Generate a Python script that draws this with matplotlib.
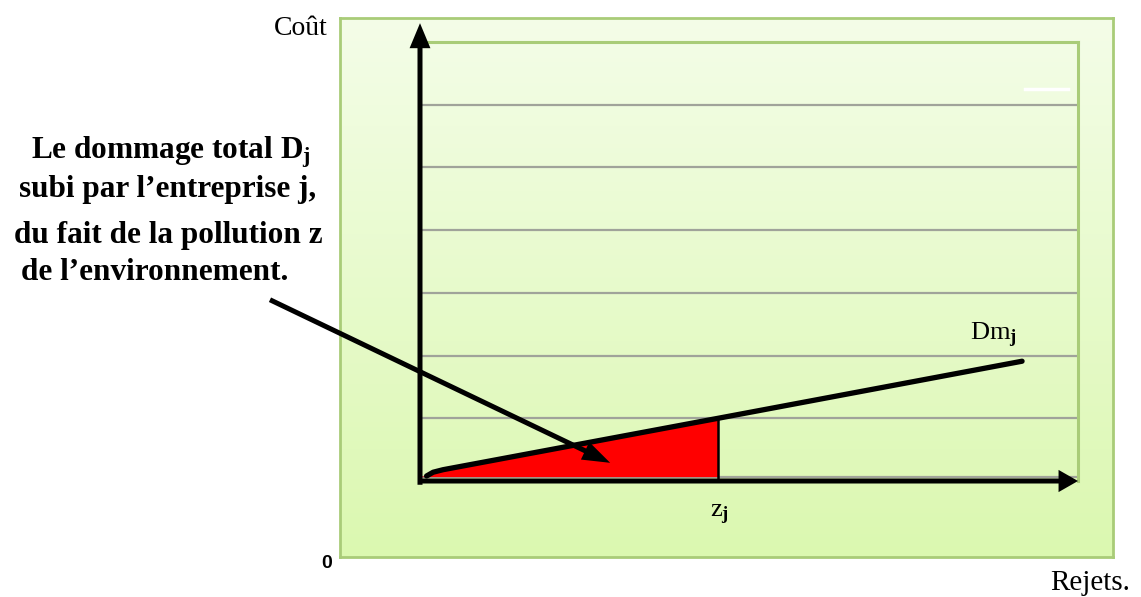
import numpy as np
import matplotlib
matplotlib.use("Agg")
import matplotlib.pyplot as plt
from matplotlib.colors import LinearSegmentedColormap

plt.rcParams["mathtext.fontset"] = "custom"
plt.rcParams["mathtext.rm"] = "Liberation Serif"
plt.rcParams["mathtext.it"] = "Liberation Serif:italic"
plt.rcParams["mathtext.bf"] = "Liberation Serif:bold"

# ---- data ----
rejets = [0.1, 0.2, 0.35, 4.53, 9.15]    # x values of the Dm_j curve
dm = [0.08, 0.14, 0.18, 1.00, 1.91]      # Dm_j values
z_j = 4.53                               # pollution level z_j
grid_levels = [1, 2, 3, 4, 5, 6]
x_max, y_max = 10, 7

W, H = 1141, 597
fig = plt.figure(figsize=(W / 100, H / 100), dpi=100)
fig.patch.set_facecolor("white")

def fx(px):
    return px / W

def fy(py):
    return 1 - py / H

GREEN_EDGE = "#a9cc78"

# outer green box with gradient
bg = fig.add_axes([fx(340), fy(557), fx(1113) - fx(340), fy(18) - fy(557)])
cmap = LinearSegmentedColormap.from_list("g", ["#f4fde8", "#dbf8b0"])
grad = np.linspace(0, 1, 256).reshape(-1, 1)
bg.imshow(grad, aspect="auto", cmap=cmap, extent=[0, 1, 0, 1], origin="upper")
bg.set_xlim(0, 1)
bg.set_ylim(0, 1)
bg.set_xticks([])
bg.set_yticks([])
for s in bg.spines.values():
    s.set_color(GREEN_EDGE)
    s.set_linewidth(2)

# main axes (inner plot area)
ax = fig.add_axes([fx(420), fy(481), fx(1078) - fx(420), fy(42) - fy(481)])
ax.set_facecolor("none")
ax.set_xlim(0, x_max)
ax.set_ylim(0, y_max)
ax.set_xticks([])
ax.set_yticks([])
for side in ["left", "bottom"]:
    ax.spines[side].set_visible(False)
for side in ["top", "right"]:
    ax.spines[side].set_color(GREEN_EDGE)
    ax.spines[side].set_linewidth(2.2)

for g in grid_levels:
    ax.plot([0, x_max], [g, g], color="#a0a39a", lw=1.6, zorder=1)
ax.plot([0, x_max], [0.06, 0.06], color="#a0a39a", lw=1.6, zorder=1)

# white artifact line
ax.plot([9.19, 9.85], [6.25, 6.25], color="white", lw=2.5, zorder=1)

# red area under the curve up to z_j
xs = np.array(rejets)
ys = np.array(dm)
mask = xs <= z_j
ax.fill_between(np.concatenate([[0], xs[mask]]), 0.07,
                np.concatenate([[0.08], ys[mask]]),
                color="#ff0000", zorder=2, lw=0)
ax.plot([z_j, z_j], [0, np.interp(z_j, xs, ys)], color="black", lw=1.8, zorder=3)

# Dm curve
ax.plot(xs, ys, color="black", lw=3.8, zorder=4, solid_capstyle="round",
        solid_joinstyle="round")

# axes arrows (filled heads)
ax.annotate("", xy=(0, 7.30), xytext=(0, -0.06),
            arrowprops=dict(width=3.6, headwidth=15, headlength=18,
                            facecolor="black", edgecolor="black", lw=0),
            annotation_clip=False, zorder=5)
ax.annotate("", xy=(10.0, 0.0), xytext=(-0.03, 0.0),
            arrowprops=dict(width=3.6, headwidth=16, headlength=14,
                            facecolor="black", edgecolor="black", lw=0),
            annotation_clip=False, zorder=5)

# pointer arrow from text to the area
ax.annotate("", xy=(2.89, 0.29), xytext=(-2.28, 2.89),
            arrowprops=dict(width=3.6, headwidth=14, headlength=20,
                            facecolor="black", edgecolor="black", lw=0),
            annotation_clip=False, zorder=6)

serif = "Liberation Serif"
fig.text(fx(301), fy(35), "Coût", fontsize=20, family=serif, ha="center", va="baseline")
fig.text(fx(327), fy(564), "0", fontsize=14, family="Liberation Sans", weight="bold",
         ha="center", va="center")
fig.text(fx(1090), fy(590), "Rejets.", fontsize=21, family=serif, ha="center", va="baseline")
fig.text(fx(710), fy(517), r"z$_{\mathbf{j}}$", fontsize=19, family=serif, ha="left", va="baseline")
fig.text(fx(970), fy(340), r"Dm$_{\mathbf{j}}$", fontsize=19, family=serif, ha="left", va="baseline")

lines = [
    (171, 158, r"Le dommage total D$_{\mathbf{j}}$"),
    (168, 197, "subi par l’entreprise j,"),
    (168, 243, "du fait de la pollution z"),
    (155, 280, "de l’environnement."),
]
for x, y, t in lines:
    fig.text(fx(x), fy(y), t, fontsize=22.5, family=serif, weight="bold",
             ha="center", va="baseline")

fig.savefig("out.png", dpi=100)
